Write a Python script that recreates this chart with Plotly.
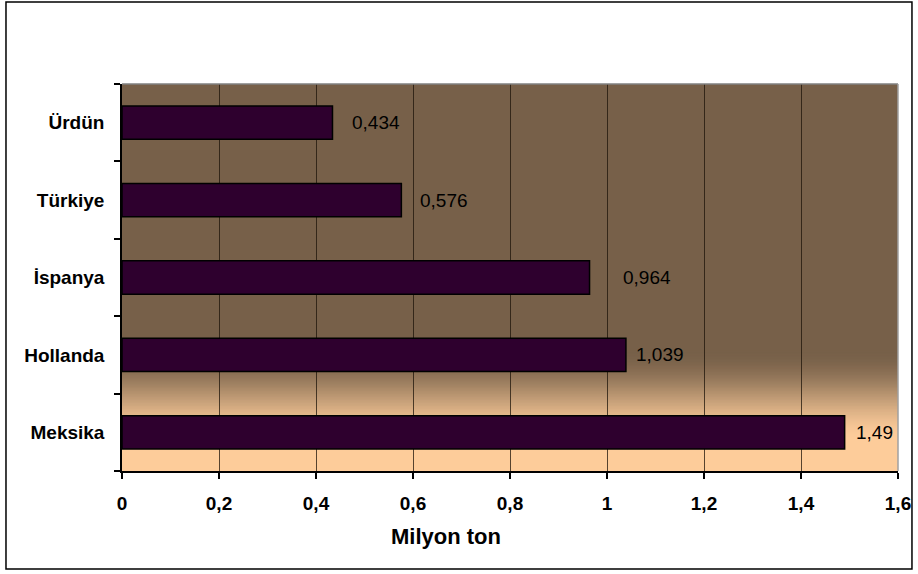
import plotly.graph_objects as go

# Production by country (million tonnes)
countries = ["Meksika", "Hollanda", "İspanya", "Türkiye", "Ürdün"]
production = [1.49, 1.039, 0.964, 0.576, 0.434]
value_text = ["1,49", "1,039", "0,964", "0,576", "0,434"]

x_ticks = [0, 0.2, 0.4, 0.6, 0.8, 1.0, 1.2, 1.4, 1.6]
x_tick_text = ["0", "0,2", "0,4", "0,6", "0,8", "1", "1,2", "1,4", "1,6"]

# horizontal pixel offset of each value label from its bar end
label_shift = [9, 8, 31, 17, 18]

FONT = "Arial, Liberation Sans, sans-serif"
BROWN = (119, 96, 73)
PEACH = (253, 204, 154)

fig = go.Figure()
fig.add_trace(go.Bar(
    y=countries,
    x=production,
    orientation="h",
    width=0.43,
    marker=dict(color="#2e002e", line=dict(color="#000000", width=1.5)),
    hoverinfo="x+y",
))

shapes = []
# plot background: brown on top fading into peach near the bottom
top_end, bottom_start = 0.31, 0.08
shapes.append(dict(type="rect", xref="paper", yref="paper", x0=0, x1=1,
                   y0=top_end, y1=1, layer="below", line_width=0,
                   fillcolor="rgb(%d,%d,%d)" % BROWN))
shapes.append(dict(type="rect", xref="paper", yref="paper", x0=0, x1=1,
                   y0=0, y1=bottom_start, layer="below", line_width=0,
                   fillcolor="rgb(%d,%d,%d)" % PEACH))
steps = 60
for i in range(steps):
    y0 = bottom_start + (top_end - bottom_start) * i / steps
    y1 = bottom_start + (top_end - bottom_start) * (i + 1) / steps
    t = (i + 0.5) / steps  # 0 at peach, 1 at brown
    s = t * t * (3 - 2 * t)
    c = [round(PEACH[k] + (BROWN[k] - PEACH[k]) * s) for k in range(3)]
    shapes.append(dict(type="rect", xref="paper", yref="paper", x0=0, x1=1,
                       y0=y0, y1=y1 + 0.002, layer="below", line_width=0,
                       fillcolor="rgb(%d,%d,%d)" % tuple(c)))

# grey plot-area frame on top and right
shapes.append(dict(type="line", xref="paper", yref="paper", x0=0, x1=1, y0=1, y1=1,
                   line=dict(color="#808080", width=1.5)))
shapes.append(dict(type="line", xref="paper", yref="paper", x0=1, x1=1, y0=0, y1=1,
                   line=dict(color="#a0a0a0", width=1.5)))
# outer chart border
shapes.append(dict(type="rect", xref="paper", yref="paper",
                   x0=-0.1495, x1=1.018, y0=-0.2532, y1=1.2119,
                   line=dict(color="#000000", width=1.5)))

annotations = []
for c, v, txt, dx in zip(countries, production, value_text, label_shift):
    annotations.append(dict(x=v, y=c, xref="x", yref="y", text=txt,
                            showarrow=False, xanchor="left", xshift=dx,
                            font=dict(family=FONT, size=19, color="#000000")))

# axis title, set slightly left of the plot centre
annotations.append(dict(x=0.4175, y=-0.17, xref="paper", yref="paper",
                        text="<b>Milyon ton</b>", showarrow=False,
                        xanchor="center", yanchor="middle",
                        font=dict(family=FONT, size=22, color="#000000")))

fig.update_layout(
    width=918, height=574,
    margin=dict(l=122, r=20, t=84, b=103),
    paper_bgcolor="#ffffff",
    plot_bgcolor="rgb(%d,%d,%d)" % BROWN,
    showlegend=False,
    bargap=0.57,
    shapes=shapes,
    annotations=annotations,
    font=dict(family=FONT, color="#000000"),
    xaxis=dict(
        range=[0, 1.6],
        tickvals=x_ticks, ticktext=x_tick_text,
        ticks="outside", ticklen=6, tickcolor="#000000", tickwidth=1.5,
        tickfont=dict(family=FONT, size=19, color="#000000", weight="bold"),
        ticklabelstandoff=8,
        showline=True, linecolor="#000000", linewidth=1.5,
        showgrid=True, gridcolor="rgba(30,20,10,0.75)", gridwidth=1,
        zeroline=False, automargin=False,
        fixedrange=True,
    ),
    yaxis=dict(
        type="category",
        categoryorder="array", categoryarray=countries,
        tickson="boundaries",
        ticks="outside", ticklen=6, tickcolor="#000000", tickwidth=1.5,
        tickfont=dict(family=FONT, size=19, color="#000000", weight="bold"),
        ticklabelstandoff=12,
        showline=True, linecolor="#000000", linewidth=1.5,
        showgrid=False, zeroline=False, automargin=False,
        fixedrange=True,
    ),
)

fig.write_html("out.html")
